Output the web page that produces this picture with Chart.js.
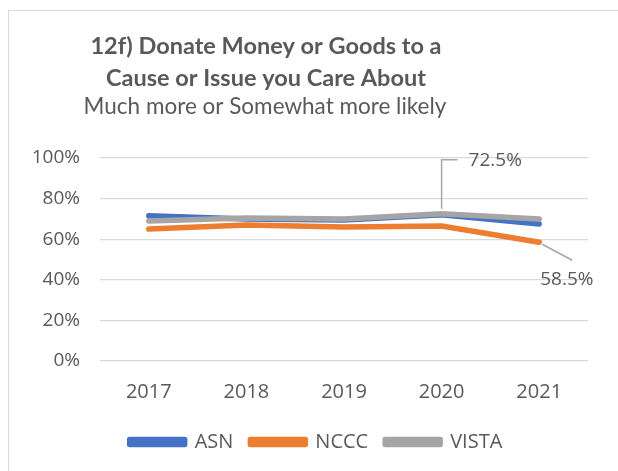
<!DOCTYPE html>
<html>
<head>
  <meta charset="UTF-8">
  <title>12f) Donate Money or Goods</title>
  <script src="https://cdn.jsdelivr.net/npm/chart.js"></script>
  <style>
    body { margin: 0; background: #fff; }
    #frame { position: absolute; left: 8px; top: 10px; width: 609px; height: 470px; border: 1px solid #d9d9d9; border-bottom: none; }
    #wrap { position: absolute; left: 0; top: 0; width: 618px; height: 471px; }
  </style>
</head>
<body>
  <div id="frame"></div>
  <div id="wrap"><canvas id="donateChart" width="618" height="471"></canvas></div>

  <script>
    const years = ['2017', '2018', '2019', '2020', '2021'];
    const asn = [71.5, 70, 69.5, 72, 67.5];
    const nccc = [65, 67, 66, 66.5, 58.5];
    const vista = [69, 70.5, 70, 72.5, 70];
    const yTicks = [0, 20, 40, 60, 80, 100];
    const titleLines = ['12f) Donate Money or Goods to a', 'Cause or Issue you Care About'];
    const subtitleText = 'Much more or Somewhat more likely';

    const TITLE_FONT = 'Lato, "Noto Sans", sans-serif';
    const FONT = '"Open Sans", "Noto Sans", sans-serif';
    const TEXT = '#595959';

    // title drawn by hand, Excel puts it left of centre
    const titlePlugin = {
      id: 'excelTitle',
      afterLayout(chart) {
        // legend sits a bit right of canvas centre in the original
        chart.legend.left += 22;
        chart.legend.right += 22;
      },
      afterDraw(chart) {
        const ctx = chart.ctx;
        ctx.save();
        ctx.fillStyle = TEXT;
        ctx.textAlign = 'center';
        ctx.textBaseline = 'middle';
        ctx.font = 'bold 23.5px ' + TITLE_FONT;
        ctx.fillText(titleLines[0], 266, 46);
        ctx.fillText(titleLines[1], 266, 78);
        ctx.font = '22.5px ' + TITLE_FONT;
        ctx.fillText(subtitleText, 265, 107);
        ctx.restore();
      }
    };

    // the two callout labels with leader lines
    const callouts = [
      { ds: 2, i: 3, pts: [[0, -5], [0, -54], [16, -54]], tx: 27, ty: -53, align: 'left' },
      { ds: 1, i: 4, pts: [[3, 2], [33, 18]], tx: 1, ty: 37, align: 'left' }
    ];
    const calloutPlugin = {
      id: 'callouts',
      afterDatasetsDraw(chart) {
        const ctx = chart.ctx;
        ctx.save();
        callouts.forEach(c => {
          const el = chart.getDatasetMeta(c.ds).data[c.i];
          const v = chart.data.datasets[c.ds].data[c.i];
          ctx.strokeStyle = '#a6a6a6';
          ctx.lineWidth = 1.5;
          ctx.beginPath();
          c.pts.forEach((p, k) => {
            if (k === 0) ctx.moveTo(el.x + p[0], el.y + p[1]);
            else ctx.lineTo(el.x + p[0], el.y + p[1]);
          });
          ctx.stroke();
          ctx.fillStyle = TEXT;
          ctx.font = '19px ' + FONT;
          ctx.textAlign = c.align;
          ctx.textBaseline = 'middle';
          ctx.fillText(v.toFixed(1) + '%', el.x + c.tx, el.y + c.ty);
        });
        ctx.restore();
      }
    };

    function series(label, data, color, order) {
      return {
        label: label,
        data: data,
        borderColor: color,
        backgroundColor: color,
        borderWidth: 5.5,
        borderCapStyle: 'round',
        borderJoinStyle: 'round',
        pointRadius: 0,
        tension: 0,
        fill: false,
        order: order
      };
    }

    const ctx = document.getElementById('donateChart').getContext('2d');
    new Chart(ctx, {
      type: 'line',
      data: {
        labels: years,
        datasets: [
          series('ASN', asn, '#4472c4', 3),
          series('NCCC', nccc, '#ed7d31', 2),
          series('VISTA', vista, '#a5a5a5', 1)
        ]
      },
      options: {
        responsive: false,
        animation: false,
        layout: { padding: { top: 158, right: 30, bottom: 9, left: 0 } },
        scales: {
          x: {
            offset: true,
            grid: { display: false },
            border: { display: false },
            ticks: { color: TEXT, font: { family: FONT, size: 20 }, padding: 11 }
          },
          y: {
            min: 0,
            max: 100,
            afterBuildTicks(scale) { scale.ticks = yTicks.map(v => ({ value: v })); },
            afterFit(scale) { scale.width = 100; },
            grid: { color: '#d9d9d9', lineWidth: 1.3, drawTicks: false },
            border: { display: false },
            ticks: {
              color: TEXT,
              font: { family: FONT, size: 19 },
              padding: 20,
              callback: v => v + '%'
            }
          }
        },
        plugins: {
          title: { display: false },
          tooltip: { enabled: false },
          legend: {
            position: 'bottom',
            labels: {
              color: TEXT,
              font: { family: FONT, size: 20 },
              boxWidth: 55,
              boxHeight: 5,
              padding: 17,
              sort: (a, b) => a.datasetIndex - b.datasetIndex
            }
          }
        }
      },
      plugins: [titlePlugin, calloutPlugin]
    });
  </script>
</body>
</html>
